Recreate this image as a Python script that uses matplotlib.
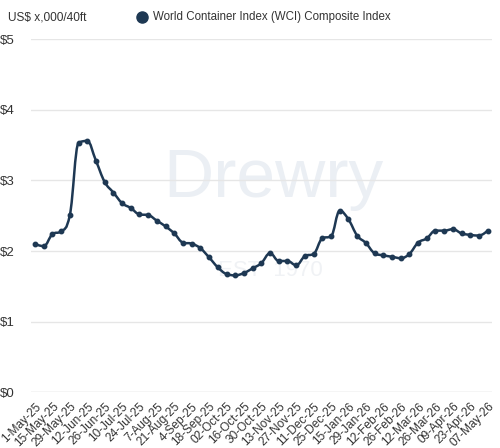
import numpy as np
import matplotlib
matplotlib.use("Agg")
import matplotlib.pyplot as plt
from matplotlib.path import Path
from matplotlib.patches import PathPatch

dates = ["1-May-25", "8-May-25", "15-May-25", "22-May-25", "29-May-25", "5-Jun-25",
         "12-Jun-25", "19-Jun-25", "26-Jun-25", "3-Jul-25", "10-Jul-25", "17-Jul-25",
         "24-Jul-25", "31-Jul-25", "7-Aug-25", "14-Aug-25", "21-Aug-25", "28-Aug-25",
         "4-Sep-25", "11-Sep-25", "18-Sep-25", "25-Sep-25", "02-Oct-25", "09-Oct-25",
         "16-Oct-25", "23-Oct-25", "30-Oct-25", "06-Nov-25", "13-Nov-25", "20-Nov-25",
         "27-Nov-25", "04-Dec-25", "11-Dec-25", "18-Dec-25", "25-Dec-25", "08-Jan-26",
         "15-Jan-26", "22-Jan-26", "29-Jan-26", "05-Feb-26", "12-Feb-26", "19-Feb-26",
         "26-Feb-26", "05-Mar-26", "12-Mar-26", "19-Mar-26", "26-Mar-26", "02-Apr-26",
         "09-Apr-26", "16-Apr-26", "23-Apr-26", "30-Apr-26", "07-May-26"]
wci = [2.10, 2.07, 2.24, 2.28, 2.51, 3.53, 3.56, 3.28, 2.98, 2.83, 2.68, 2.61,
       2.52, 2.51, 2.43, 2.35, 2.25, 2.12, 2.105, 2.04, 1.91, 1.77, 1.675, 1.657,
       1.69, 1.756, 1.83, 1.97, 1.86, 1.86, 1.80, 1.93, 1.96, 2.18, 2.21, 2.57,
       2.45, 2.22, 2.115, 1.97, 1.94, 1.92, 1.90, 1.96, 2.12, 2.18, 2.29, 2.29,
       2.31, 2.25, 2.23, 2.22, 2.29]
yticks = [0, 1, 2, 3, 4, 5]
ytick_labels = ["$0", "$1", "$2", "$3", "$4", "$5"]
series_name = "World Container Index (WCI) Composite Index"
unit_label = "US$ x,000/40ft"

LINE = "#1e3853"
plt.rcParams['font.family'] = ['Liberation Sans', 'DejaVu Sans']

fig = plt.figure(figsize=(5.0, 4.48), dpi=100)
ax = fig.add_axes([0.062, 0.1243, 0.922, 0.788])

x = np.arange(len(wci))
y = np.array(wci, dtype=float)

# spline path (Highcharts-like smoothing) built from data points
def spline_path(xs, ys, smoothing=1.5):
    denom = smoothing + 1
    verts = [(xs[0], ys[0])]
    codes = [Path.MOVETO]
    n = len(xs)
    lc = [None] * n
    rc = [None] * n
    for i in range(1, n - 1):
        px, py = xs[i], ys[i]
        lx, ly = xs[i - 1], ys[i - 1]
        nx, ny = xs[i + 1], ys[i + 1]
        lcx = (smoothing * px + lx) / denom
        lcy = (smoothing * py + ly) / denom
        rcx = (smoothing * px + nx) / denom
        rcy = (smoothing * py + ny) / denom
        if rcx != lcx:
            corr = ((rcy - lcy) * (rcx - px)) / (rcx - lcx) + py - rcy
            lcy += corr
            rcy += corr
        if lcy > ly and lcy > py:
            lcy = max(ly, py); rcy = 2 * py - lcy
        elif lcy < ly and lcy < py:
            lcy = min(ly, py); rcy = 2 * py - lcy
        if rcy > ny and rcy > py:
            rcy = max(ny, py); lcy = 2 * py - rcy
        elif rcy < ny and rcy < py:
            rcy = min(ny, py); lcy = 2 * py - rcy
        lc[i] = (lcx, lcy)
        rc[i] = (rcx, rcy)
    for i in range(1, n):
        c1 = rc[i - 1] if rc[i - 1] is not None else (xs[i - 1], ys[i - 1])
        c2 = lc[i] if lc[i] is not None else (xs[i], ys[i])
        verts += [c1, c2, (xs[i], ys[i])]
        codes += [Path.CURVE4, Path.CURVE4, Path.CURVE4]
    return Path(verts, codes)

# watermark
ax.text(0.525, 0.605, "Drewry", transform=ax.transAxes, fontsize=50,
        color="#ebeff4", ha='center', va='center', zorder=0)
ax.text(0.52, 0.345, "EST  1970", transform=ax.transAxes, fontsize=16,
        color="#f0f2f5", ha='center', va='center', zorder=0)

for t in yticks:
    ax.axhline(t, color="#cccccc" if t == 0 else "#e6e6e6", lw=1.0, zorder=1)

patch = PathPatch(spline_path(x, y), facecolor='none', edgecolor=LINE, lw=1.8,
                  zorder=3, capstyle='round', joinstyle='round')
ax.add_patch(patch)
ax.plot(x, y, linestyle='none', marker='o', ms=3.2, color=LINE, zorder=4)

ax.set_xlim(-0.46, 52.49)
ax.set_ylim(0, 5)
for s in ax.spines.values():
    s.set_visible(False)
ax.set_yticks(yticks)
ax.set_yticklabels(ytick_labels, fontsize=9.5, color="#333333")
ax.tick_params(axis='y', length=0, pad=6)
tick_idx = list(range(0, len(dates), 2))
ax.set_xticks(tick_idx)
ax.set_xticklabels([dates[i] for i in tick_idx], rotation=45, ha='right',
                   va='top', rotation_mode='anchor', fontsize=8.6, color="#333333")
ax.tick_params(axis='x', length=0, pad=6)
for lab in ax.get_yticklabels():
    lab.set_horizontalalignment('left')
    lab.set_x(-0.062 / 0.922 + 8 / 461)

fig.text(8 / 500, 1 - 17 / 448, unit_label, fontsize=8.6, color="#333333",
         ha='left', va='center')
fig.lines.append(plt.Line2D([142 / 500], [1 - 17 / 448], marker='o', ms=8,
                            color=LINE, transform=fig.transFigure))
fig.text(153 / 500, 1 - 17 / 448, series_name, fontsize=8.3, color="#333333",
         ha='left', va='center')

fig.savefig("out.png", dpi=100)
